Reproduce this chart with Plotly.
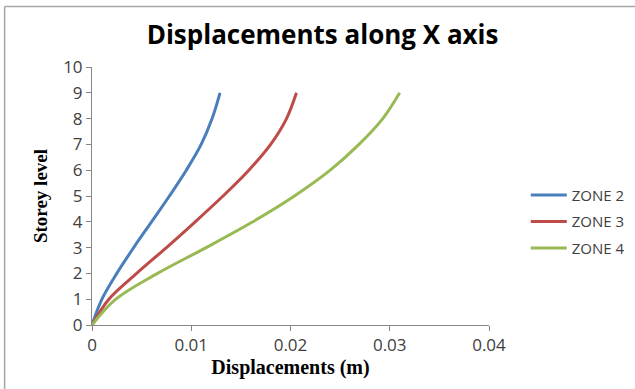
import plotly.graph_objects as go

storey = [0, 1, 2, 3, 4, 5, 6, 7, 8, 9]
zone2 = [0, 0.0010, 0.0025, 0.0042, 0.0060, 0.0078, 0.0095, 0.0110, 0.0121, 0.0129]
zone3 = [0, 0.0017, 0.0045, 0.0075, 0.0104, 0.0132, 0.0158, 0.0180, 0.0196, 0.0206]
zone4 = [0, 0.0024, 0.0066, 0.0115, 0.0162, 0.0204, 0.0240, 0.0269, 0.0293, 0.0310]
names = ["ZONE 2", "ZONE 3", "ZONE 4"]
colors = ["#4A7EBB", "#BE4B48", "#98B954"]

fig = go.Figure()
for name, xs, c in zip(names, [zone2, zone3, zone4], colors):
    fig.add_trace(go.Scatter(
        x=xs, y=storey, name=name, mode="lines", legendgroup=name,
        line=dict(color=c, width=3, shape="spline", smoothing=1.0),
    ))

tick_font = dict(family="Open Sans, Arial", size=17, color="#404040")

fig.update_layout(
    width=635, height=389,
    margin=dict(l=92, r=146, t=67, b=64, autoexpand=False),
    paper_bgcolor="white", plot_bgcolor="white",
    title=dict(text="<b>Displacements along X axis</b>", x=0.508, xref="container",
               y=0.91, yref="container", xanchor="center", yanchor="middle",
               font=dict(family="Open Sans, Arial", size=26, color="#000000")),
    xaxis=dict(range=[0, 0.04], tickvals=[0, 0.01, 0.02, 0.03, 0.04],
               ticktext=["0", "0.01", "0.02", "0.03", "0.04"],
               showgrid=False, zeroline=False, showline=True, linecolor="#868686",
               linewidth=1, ticks="outside", ticklen=5, tickcolor="#868686",
               tickfont=tick_font,
               title=dict(text="<b>Displacements (m)</b>", standoff=1,
                          font=dict(family="Liberation Serif, Times New Roman",
                                    size=20, color="#000000"))),
    yaxis=dict(range=[0, 10], dtick=1, showgrid=False, zeroline=False,
               showline=True, linecolor="#868686", linewidth=1,
               ticks="outside", ticklen=5, tickcolor="#868686", tickfont=tick_font,
               title=dict(text="<b>Storey level</b>", standoff=10,
                          font=dict(family="Liberation Serif, Times New Roman",
                                    size=19, color="#000000"))),
    legend=dict(xref="container", yref="container", x=0.828, y=0.43,
                xanchor="left", yanchor="middle",
                font=dict(family="Open Sans, Arial", size=15, color="#404040"),
                bgcolor="rgba(0,0,0,0)", itemwidth=36, tracegroupgap=4),
    showlegend=True,
)

# chart frame (left and top edges)
fig.add_shape(type="line", xref="paper", yref="paper",
              x0=-0.2201, x1=-0.2201, y0=-0.25, y1=1.2345,
              line=dict(color="#A6A6A6", width=1.5))
fig.add_shape(type="line", xref="paper", yref="paper",
              x0=-0.2201, x1=1.37, y0=1.2345, y1=1.2345,
              line=dict(color="#A6A6A6", width=1.5))

fig.write_html("out.html")
